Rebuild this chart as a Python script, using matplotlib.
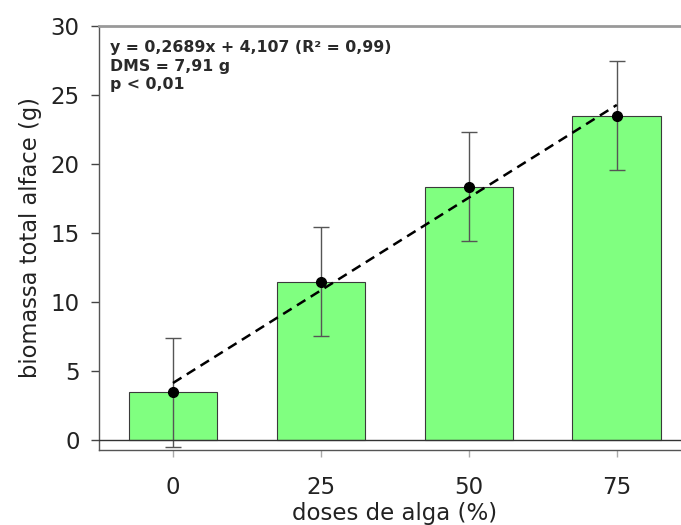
import matplotlib

matplotlib.use("Agg")
import matplotlib.pyplot as plt
import numpy as np

plt.rcParams["font.family"] = ["DejaVu Sans"]

doses = [0, 25, 50, 75]
biomass = [3.45, 11.45, 18.35, 23.5]
err = [3.955, 3.955, 3.955, 3.955]
slope, intercept = 0.2689, 4.107
stats_text = "y = 0,2689x + 4,107 (R² = 0,99)\nDMS = 7,91 g\np < 0,01"

fig = plt.figure(figsize=(6.81, 5.25), dpi=100)
ax = fig.add_axes([0.1454, 0.1429, 0.869, 0.8076])

ax.bar(doses, biomass, width=15, color="#80ff80", edgecolor="#3a3a3a", linewidth=0.8, zorder=2)
ax.errorbar(doses, biomass, yerr=err, fmt="none", ecolor="#555555", elinewidth=1.0,
            capsize=5.5, capthick=1.0, zorder=3)
ax.axhline(0, color="#333333", linewidth=1.0, zorder=4)

# fitted line over the dose range
xfit = np.array([doses[0], doses[-1]])
ax.plot(xfit, slope * xfit + intercept, "--", color="black", linewidth=1.8, dashes=(4, 2.5), zorder=5)
ax.plot(doses, biomass, "o", color="black", markersize=7, zorder=6)

ax.text(-10.6, 29.0, stats_text, fontsize=11.3, fontweight="bold", va="top", ha="left",
        linespacing=1.32, color="#2a2a2a")

ax.set_xlim(-12.5, 87.5)
ax.set_ylim(-0.75, 30)
ax.set_xticks(doses)
ax.set_yticks([0, 5, 10, 15, 20, 25, 30])
ax.tick_params(axis="y", direction="out", length=6, width=1, colors="#444444", labelcolor="#222222",
               labelsize=16.5, pad=8)
ax.tick_params(axis="x", direction="out", length=5, width=1, colors="#aaaaaa", labelcolor="#222222",
               labelsize=16.5, pad=14)
ax.set_xlabel("doses de alga (%)", fontsize=16.5, color="#222222", labelpad=2)
ax.set_ylabel("biomassa total alface (g)", fontsize=16.3, color="#222222", labelpad=6)

for side in ["left", "bottom"]:
    ax.spines[side].set_color("#555555")
    ax.spines[side].set_linewidth(1.0)
ax.spines["top"].set_color("#999999")
ax.spines["top"].set_linewidth(2.0)
ax.spines["right"].set_visible(False)

fig.savefig("out.png", dpi=100)
plt.close(fig)
